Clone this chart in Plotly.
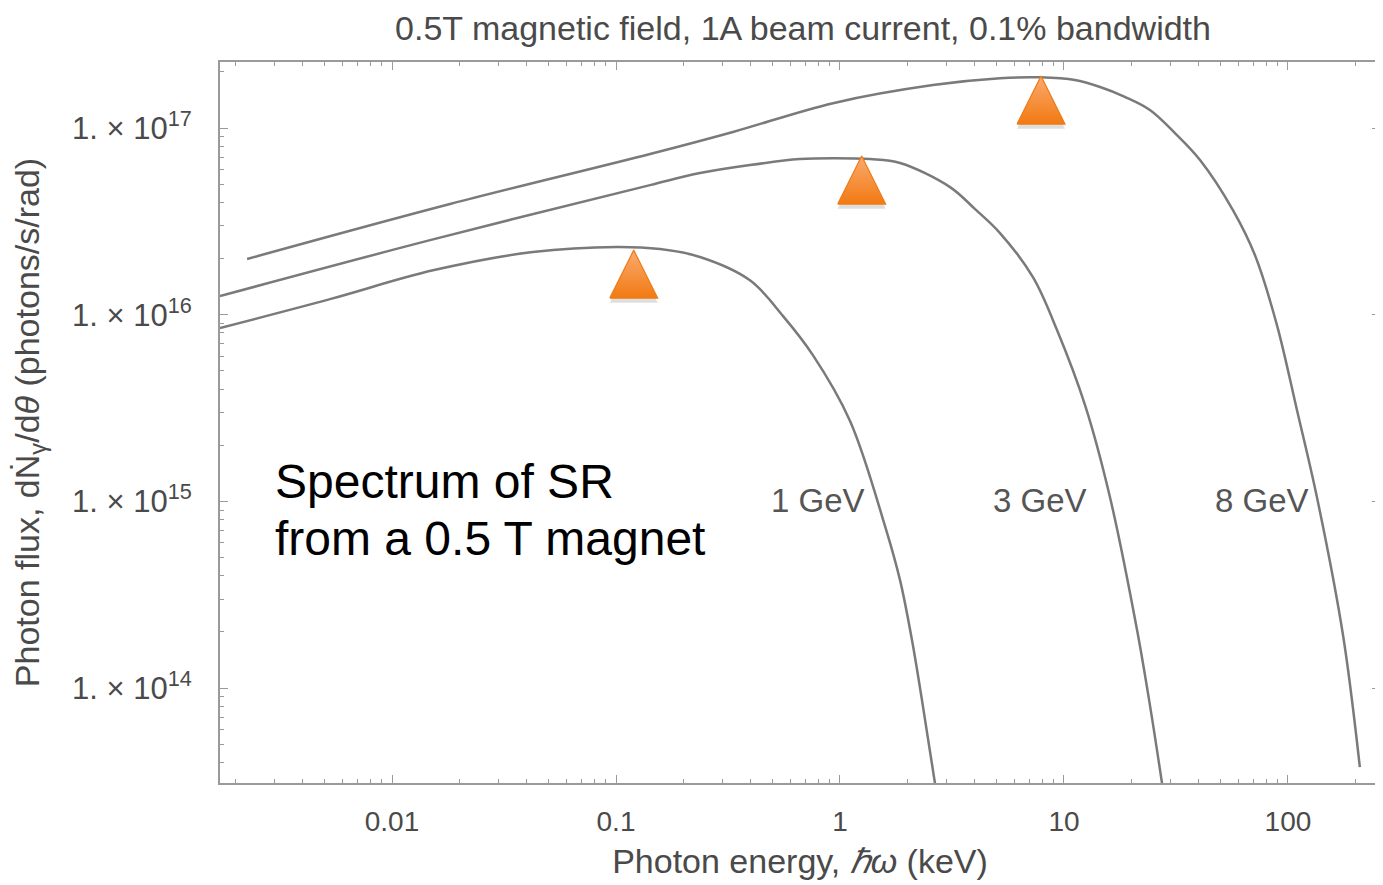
import numpy as np
import plotly.graph_objects as go

# ---- data (photon energy keV, photon flux) ----
e_1gev = [0.001706, 0.005284, 0.01524, 0.04256, 0.1009, 0.1572, 0.2371, 0.3963, 0.557, 0.757, 1.109, 1.589, 1.854, 2.096, 2.323, 2.655]
f_1gev = [8.49e15, 1.213e16, 1.73e16, 2.17e16, 2.31e16, 2.249e16, 2.04e16, 1.53e16, 9.84e15, 6.08e15, 2.70e15, 7.38e14, 3.79e14, 1.81e14, 8.63e13, 3.10e13]

e_3gev = [0.001706, 0.01479, 0.1419, 0.2371, 0.3963, 0.662, 0.931, 1.361, 1.854, 3.10, 4.01, 5.18, 7.27, 9.31, 12.42, 16.03, 21.2, 24.2, 27.4]
f_3gev = [1.26e16, 2.51e16, 4.95e16, 5.74e16, 6.34e16, 6.82e16, 6.90e16, 6.82e16, 6.50e16, 4.83e16, 3.68e16, 2.74e16, 1.59e16, 8.28e15, 3.28e15, 1.06e15, 2.05e14, 8.11e13, 3.10e13]

e_8gev = [0.002254, 0.01816, 0.1419, 0.3327, 0.931, 2.60, 5.18, 7.82, 11.19, 14.5, 18.7, 24.2, 31.3, 40.5, 56.8, 71.2, 89.3, 109.7, 134.6, 176.2, 209.4]
f_8gev = [1.99e16, 3.92e16, 7.26e16, 9.53e16, 1.36e17, 1.70e17, 1.85e17, 1.87e17, 1.81e17, 1.66e17, 1.47e17, 1.25e17, 9.40e16, 6.75e16, 3.64e16, 2.09e16, 8.81e15, 3.09e15, 1.06e15, 1.92e14, 3.78e13]

curve_labels = ["1 GeV", "3 GeV", "8 GeV"]
label_x = [0.798, 7.82, 76.6]
label_y = [1.016e15, 1.016e15, 1.016e15]

note_lines = ["Spectrum of SR", "from a 0.5 T magnet"]
note_x = [0.002944, 0.002944]
note_y = [1.285e15, 6.37e14]

peak_x = [0.120, 1.25, 7.9]
peak_apex_y = [2.22e16, 7.08e16, 1.90e17]

x_tickvals = [0.01, 0.1, 1, 10, 100]
x_ticktext = ["0.01", "0.1", "1", "10", "100"]
y_tickvals = [1e14, 1e15, 1e16, 1e17]
y_ticktext = ["1. × 10<sup>14</sup>", "1. × 10<sup>15</sup>", "1. × 10<sup>16</sup>", "1. × 10<sup>17</sup>"]

# ---- styles ----
CURVE = "#7a7a7a"
AXIS = "#9a9a9a"
TXT = "#4a4a4a"
FONT = "Liberation Sans, Arial, sans-serif"
TRI_HALF_W = 0.107   # decades
TRI_H = 0.257        # decades

fig = go.Figure()
for ex, fy in [(e_1gev, f_1gev), (e_3gev, f_3gev), (e_8gev, f_8gev)]:
    fig.add_trace(go.Scatter(x=ex, y=fy, mode="lines",
                             line=dict(color=CURVE, width=2.5, shape="spline", smoothing=1.0),
                             showlegend=False, hoverinfo="skip"))

# triangle markers (with soft shadow)
for px, py in zip(peak_x, peak_apex_y):
    lx, ly = np.log10(px), np.log10(py)
    xs = [10 ** (lx - TRI_HALF_W), 10 ** lx, 10 ** (lx + TRI_HALF_W), 10 ** (lx - TRI_HALF_W)]
    ys = [10 ** (ly - TRI_H), 10 ** ly, 10 ** (ly - TRI_H), 10 ** (ly - TRI_H)]
    sh = 0.025
    fig.add_trace(go.Scatter(x=xs, y=[v / 10 ** sh for v in ys], mode="lines", fill="toself",
                             fillcolor="rgba(0,0,0,0.13)", line=dict(width=0),
                             showlegend=False, hoverinfo="skip"))
    fig.add_trace(go.Scatter(x=xs, y=ys, mode="lines", fill="toself",
                             fillgradient=dict(type="vertical",
                                               colorscale=[[0, "#F27A12"], [1, "#FBAA70"]]),
                             line=dict(color="#EE7A14", width=1.2),
                             showlegend=False, hoverinfo="skip"))

for t, x, y in zip(curve_labels, label_x, label_y):
    fig.add_annotation(x=np.log10(x), y=np.log10(y), xref="x", yref="y", text=t,
                       showarrow=False, font=dict(family=FONT, size=33, color="#555555"))

for t, x, y in zip(note_lines, note_x, note_y):
    fig.add_annotation(x=np.log10(x), y=np.log10(y), xref="x", yref="y", text=t,
                       showarrow=False, xanchor="left", yanchor="middle",
                       font=dict(family=FONT, size=48, color="#000000"))

minor_vals = [k * 10.0 ** d for d in range(-3, 3) for k in range(2, 10)]
minor_y = [k * 10.0 ** d for d in range(13, 18) for k in range(2, 10)]

fig.update_xaxes(type="log", range=[-2.768, 2.411], tickvals=x_tickvals, ticktext=x_ticktext,
                 automargin=False,
                 showgrid=False, zeroline=False, showline=True, linecolor=AXIS, linewidth=2,
                 mirror="ticks", ticks="inside", ticklen=8, tickcolor=AXIS,
                 minor=dict(tickvals=minor_vals, ticks="inside", ticklen=4, tickcolor=AXIS, showgrid=False),
                 tickfont=dict(family=FONT, size=28, color=TXT), ticklabelstandoff=12,
                 title=dict(text="Photon energy, <i>ℏω</i> (keV)", standoff=14,
                            font=dict(family=FONT, size=34, color=TXT)))
fig.update_yaxes(type="log", range=[13.492, 17.354], tickvals=y_tickvals, ticktext=y_ticktext,
                 automargin=False,
                 showgrid=False, zeroline=False, showline=True, linecolor=AXIS, linewidth=2,
                 mirror="ticks", ticks="inside", ticklen=8, tickcolor=AXIS,
                 minor=dict(tickvals=minor_y, ticks="inside", ticklen=4, tickcolor=AXIS, showgrid=False),
                 tickfont=dict(family=FONT, size=31, color=TXT), ticklabelstandoff=20,
                 title=dict(text="Photon flux, dṄ<sub>γ</sub>/d<i>θ</i> (photons/s/rad)", standoff=26,
                            font=dict(family=FONT, size=34, color=TXT)))

# page body adds an 8px offset; the figure is sized so the plot area lands at 220..1380 x 62..783
fig.update_layout(width=1375, height=877, margin=dict(l=212, r=3, t=54, b=102, autoexpand=False),
                  paper_bgcolor="white", plot_bgcolor="white",
                  title=dict(text="0.5T magnetic field, 1A beam current, 0.1% bandwidth",
                             x=0.5782, xanchor="center", y=0.977, yanchor="middle",
                             font=dict(family=FONT, size=34, color=TXT)))

fig.write_html("out.html")
